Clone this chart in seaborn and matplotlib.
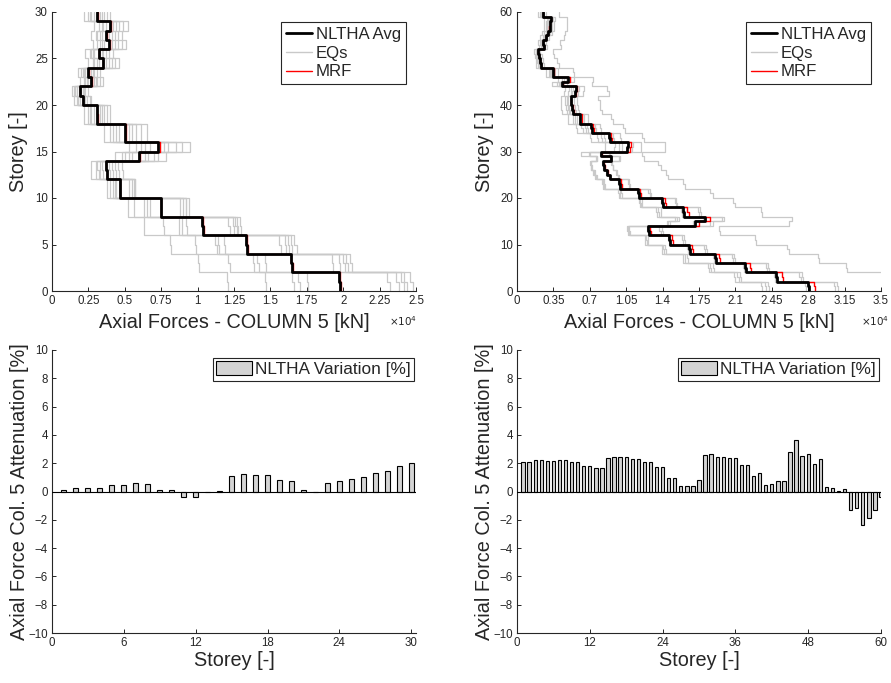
import numpy as np
import matplotlib
matplotlib.use("Agg")
import matplotlib.pyplot as plt
import seaborn as sns
from matplotlib.lines import Line2D
from matplotlib.patches import Patch

# ---------------- DATA (axial forces in 1e4 kN, storey 1..N from bottom) ----------------
storeys_30 = list(range(1, 31))
storeys_60 = list(range(1, 61))

avg_30 = [1.98, 1.97, 1.65, 1.64, 1.34, 1.33, 1.04, 1.03, 0.75, 0.75,
          0.47, 0.47, 0.38, 0.37, 0.60, 0.73, 0.50, 0.50, 0.31, 0.31,
          0.21, 0.19, 0.27, 0.25, 0.35, 0.32, 0.39, 0.37, 0.40, 0.31]

var_30 = [0.12, 0.26, 0.26, 0.26, 0.47, 0.45, 0.57, 0.55, 0.14, 0.12,
          -0.38, -0.38, -0.02, 0.07, 1.13, 1.25, 1.20, 1.18, 0.83, 0.73,
          0.14, -0.03, 0.57, 0.75, 0.90, 1.06, 1.32, 1.46, 1.81, 2.03]

eqs_30 = [
    [1.21, 1.20, 1.01, 1.00, 0.82, 0.81, 0.63, 0.63, 0.52, 0.52, 0.38, 0.38, 0.27, 0.27, 0.43, 0.53, 0.36, 0.36, 0.22, 0.22, 0.15, 0.14, 0.19, 0.18, 0.25, 0.23, 0.28, 0.27, 0.29, 0.22],
    [1.47, 1.46, 1.22, 1.21, 0.99, 0.98, 0.77, 0.76, 0.56, 0.56, 0.40, 0.40, 0.30, 0.30, 0.48, 0.58, 0.40, 0.40, 0.25, 0.25, 0.17, 0.15, 0.22, 0.20, 0.28, 0.26, 0.31, 0.30, 0.32, 0.25],
    [1.66, 1.65, 1.39, 1.38, 1.13, 1.12, 0.87, 0.87, 0.63, 0.63, 0.42, 0.42, 0.35, 0.34, 0.55, 0.67, 0.46, 0.46, 0.29, 0.29, 0.19, 0.17, 0.25, 0.23, 0.32, 0.29, 0.36, 0.34, 0.37, 0.29],
    [1.70, 1.69, 1.42, 1.41, 1.15, 1.14, 0.89, 0.89, 0.65, 0.65, 0.43, 0.43, 0.33, 0.33, 0.53, 0.64, 0.44, 0.44, 0.27, 0.27, 0.18, 0.17, 0.24, 0.22, 0.31, 0.28, 0.34, 0.33, 0.35, 0.27],
    [1.76, 1.75, 1.47, 1.46, 1.19, 1.18, 0.93, 0.92, 0.67, 0.67, 0.44, 0.44, 0.32, 0.31, 0.50, 0.61, 0.42, 0.42, 0.26, 0.26, 0.18, 0.16, 0.23, 0.21, 0.29, 0.27, 0.33, 0.31, 0.34, 0.26],
    [2.32, 2.30, 1.93, 1.92, 1.57, 1.56, 1.22, 1.21, 0.88, 0.88, 0.53, 0.53, 0.42, 0.41, 0.66, 0.80, 0.55, 0.55, 0.34, 0.34, 0.23, 0.21, 0.30, 0.28, 0.39, 0.35, 0.43, 0.41, 0.44, 0.34],
    [2.38, 2.36, 1.98, 1.97, 1.61, 1.60, 1.25, 1.24, 0.90, 0.90, 0.55, 0.55, 0.44, 0.43, 0.70, 0.85, 0.58, 0.58, 0.36, 0.36, 0.24, 0.22, 0.31, 0.29, 0.41, 0.37, 0.45, 0.43, 0.46, 0.36],
    [2.42, 2.40, 2.01, 2.00, 1.63, 1.62, 1.27, 1.26, 0.92, 0.92, 0.56, 0.56, 0.40, 0.39, 0.64, 0.77, 0.53, 0.53, 0.33, 0.33, 0.22, 0.20, 0.29, 0.27, 0.37, 0.34, 0.41, 0.39, 0.42, 0.33],
    [2.44, 2.42, 2.03, 2.02, 1.65, 1.64, 1.28, 1.27, 0.92, 0.92, 0.57, 0.57, 0.49, 0.48, 0.78, 0.95, 0.65, 0.65, 0.40, 0.40, 0.27, 0.25, 0.35, 0.33, 0.46, 0.42, 0.51, 0.48, 0.52, 0.40],
    [2.48, 2.46, 2.06, 2.05, 1.68, 1.66, 1.30, 1.29, 0.94, 0.94, 0.57, 0.57, 0.46, 0.45, 0.73, 0.89, 0.61, 0.61, 0.38, 0.38, 0.26, 0.23, 0.33, 0.31, 0.43, 0.39, 0.48, 0.45, 0.49, 0.38],
]

avg_60 = [2.81, 2.80, 2.50, 2.49, 2.20, 2.19, 1.91, 1.90, 1.66, 1.65,
          1.47, 1.46, 1.27, 1.26, 1.71, 1.81, 1.61, 1.60, 1.40, 1.39,
          1.17, 1.16, 0.99, 0.98, 0.89, 0.87, 0.84, 0.83, 0.90, 0.81,
          1.06, 1.07, 0.89, 0.88, 0.72, 0.71, 0.61, 0.61, 0.54, 0.53,
          0.52, 0.52, 0.56, 0.57, 0.43, 0.49, 0.35, 0.35, 0.23, 0.22,
          0.21, 0.20, 0.26, 0.25, 0.28, 0.30, 0.32, 0.32, 0.33, 0.25]

var_60 = [2.05, 2.05, 2.20, 2.20, 2.17, 2.17, 2.20, 2.20, 2.10, 2.10,
          1.80, 1.80, 1.63, 1.63, 2.40, 2.43, 2.43, 2.43, 2.28, 2.28,
          2.12, 2.12, 1.74, 1.74, 0.94, 0.97, 0.40, 0.42, 0.38, 0.82,
          2.61, 2.64, 2.43, 2.43, 2.36, 2.38, 1.84, 1.84, 1.08, 1.30,
          0.47, 0.54, 0.75, 0.75, 2.80, 3.63, 2.54, 2.64, 1.96, 2.28,
          0.30, 0.24, 0.02, 0.21, -1.30, -1.18, -2.38, -1.84, -1.30, -0.40]

eqs_60 = [
    [2.36, 2.35, 2.10, 2.09, 1.85, 1.84, 1.60, 1.60, 1.39, 1.39, 1.23, 1.23, 1.07, 1.06, 1.44, 1.52, 1.35, 1.34, 1.18, 1.17, 0.98, 0.97, 0.83, 0.82, 0.75, 0.73, 0.71, 0.70, 0.76, 0.62,
     0.85, 0.85, 0.71, 0.70, 0.58, 0.57, 0.49, 0.49, 0.43, 0.42, 0.42, 0.42, 0.45, 0.46, 0.34, 0.39, 0.28, 0.28, 0.18, 0.18, 0.17, 0.16, 0.21, 0.20, 0.22, 0.24, 0.26, 0.26, 0.26, 0.20],
    [2.39, 2.38, 2.13, 2.12, 1.87, 1.86, 1.62, 1.62, 1.41, 1.40, 1.25, 1.24, 1.08, 1.07, 1.45, 1.54, 1.37, 1.36, 1.19, 1.18, 0.99, 0.99, 0.84, 0.83, 0.76, 0.74, 0.71, 0.71, 0.77, 0.69,
     0.93, 0.94, 0.78, 0.77, 0.63, 0.62, 0.54, 0.54, 0.48, 0.47, 0.46, 0.46, 0.49, 0.50, 0.38, 0.43, 0.31, 0.31, 0.20, 0.19, 0.18, 0.18, 0.23, 0.22, 0.25, 0.26, 0.28, 0.28, 0.29, 0.22],
    [2.42, 2.41, 2.15, 2.14, 1.89, 1.88, 1.64, 1.63, 1.43, 1.42, 1.26, 1.26, 1.09, 1.08, 1.47, 1.56, 1.38, 1.38, 1.20, 1.20, 1.01, 1.00, 0.85, 0.84, 0.77, 0.75, 0.72, 0.71, 0.77, 0.70,
     0.98, 0.98, 0.82, 0.81, 0.66, 0.65, 0.56, 0.56, 0.50, 0.49, 0.48, 0.48, 0.52, 0.52, 0.40, 0.45, 0.32, 0.32, 0.21, 0.20, 0.19, 0.18, 0.24, 0.23, 0.26, 0.28, 0.29, 0.29, 0.30, 0.23],
    [2.78, 2.77, 2.48, 2.47, 2.18, 2.17, 1.89, 1.88, 1.64, 1.63, 1.46, 1.45, 1.26, 1.25, 1.69, 1.79, 1.59, 1.58, 1.39, 1.38, 1.16, 1.15, 0.98, 0.97, 0.88, 0.86, 0.83, 0.82, 0.89, 0.80,
     1.01, 1.01, 0.85, 0.84, 0.68, 0.67, 0.58, 0.58, 0.51, 0.50, 0.49, 0.49, 0.53, 0.54, 0.41, 0.47, 0.33, 0.33, 0.22, 0.21, 0.20, 0.19, 0.25, 0.24, 0.27, 0.29, 0.30, 0.30, 0.31, 0.24],
    [3.06, 3.05, 2.73, 2.71, 2.40, 2.39, 2.08, 2.07, 1.81, 1.80, 1.60, 1.59, 1.38, 1.37, 1.86, 1.97, 1.75, 1.74, 1.53, 1.52, 1.28, 1.26, 1.08, 1.07, 0.97, 0.95, 0.92, 0.90, 0.98, 0.88,
     1.11, 1.12, 0.93, 0.92, 0.76, 0.75, 0.64, 0.64, 0.57, 0.56, 0.55, 0.55, 0.59, 0.60, 0.45, 0.51, 0.37, 0.37, 0.24, 0.23, 0.22, 0.21, 0.27, 0.26, 0.29, 0.32, 0.34, 0.34, 0.35, 0.26],
    [3.09, 3.08, 2.75, 2.74, 2.42, 2.41, 2.10, 2.09, 1.83, 1.82, 1.62, 1.61, 1.40, 1.39, 1.88, 1.99, 1.77, 1.76, 1.54, 1.53, 1.29, 1.28, 1.09, 1.08, 0.98, 0.96, 0.92, 0.91, 0.99, 0.89,
     1.19, 1.19, 1.00, 0.99, 0.81, 0.80, 0.68, 0.68, 0.60, 0.59, 0.58, 0.58, 0.63, 0.64, 0.48, 0.55, 0.39, 0.39, 0.26, 0.25, 0.24, 0.22, 0.29, 0.28, 0.31, 0.34, 0.36, 0.36, 0.37, 0.28],
    [3.70, 3.69, 3.68, 3.66, 3.17, 3.16, 2.90, 2.89, 2.62, 2.60, 2.30, 2.29, 1.95, 1.94, 2.62, 2.64, 2.36, 2.35, 2.10, 2.08, 1.88, 1.86, 1.62, 1.60, 1.45, 1.43, 1.38, 1.36, 1.22, 1.20,
     1.42, 1.42, 1.22, 1.20, 1.04, 1.02, 0.92, 0.90, 0.82, 0.80, 0.80, 0.78, 0.88, 0.87, 0.72, 0.73, 0.55, 0.54, 0.40, 0.38, 0.36, 0.35, 0.42, 0.41, 0.45, 0.46, 0.48, 0.48, 0.48, 0.40],
]

xticks_30 = [0, 0.25, 0.5, 0.75, 1, 1.25, 1.5, 1.75, 2, 2.25, 2.5]
xticklabels_30 = ["0", "0.25", "0.5", "0.75", "1", "1.25", "1.5", "1.75", "2", "2.25", "2.5"]
xticks_60 = [0, 0.35, 0.7, 1.05, 1.4, 1.75, 2.1, 2.45, 2.8, 3.15, 3.5]
xticklabels_60 = ["0", "0.35", "0.7", "1.05", "1.4", "1.75", "2.1", "2.45", "2.8", "3.15", "3.5"]

# ---------------- STYLE ----------------
sns.set_style("ticks")
plt.rcParams["font.family"] = ["Liberation Sans", "DejaVu Sans"]

AX_COL = "#262626"
GREY = "#c9c9c9"
BAR_FACE = "#d4d4d4"
LABEL_FS = 14.3

fig = plt.figure(figsize=(8.91, 6.83), dpi=100)
W, H = 891.0, 683.0


def axes_px(l, t, r, b):
    return fig.add_axes([l / W, 1 - b / H, (r - l) / W, (b - t) / H])


ax_tl = axes_px(52, 12, 416, 291)
ax_tr = axes_px(517, 12, 881, 291)
ax_bl = axes_px(52, 350, 416, 633)
ax_br = axes_px(517, 350, 881, 633)


def step_xy(vals):
    v = np.asarray(vals, dtype=float)
    n = len(v)
    xs = np.repeat(v, 2)
    ys = np.empty(2 * n)
    ys[0::2] = np.arange(n)
    ys[1::2] = np.arange(1, n + 1)
    return xs, ys


def style_axes(ax):
    sns.despine(ax=ax)
    for s in ("left", "bottom"):
        ax.spines[s].set_color(AX_COL)
        ax.spines[s].set_linewidth(0.8)
    ax.tick_params(direction="in", length=3, width=0.7, color=AX_COL,
                   labelsize=8.3, labelcolor=AX_COL, pad=3)


def profile(ax, avg, var, eqs, nst, xmax, xticks, xlabels, yticks):
    for eq in eqs:
        xs, ys = step_xy(eq)
        sns.lineplot(x=xs, y=ys, sort=False, estimator=None, color=GREY,
                     linewidth=0.9, legend=False, ax=ax)
    mrf = np.asarray(avg) * (1 + np.asarray(var) / 100.0)
    xs, ys = step_xy(mrf)
    sns.lineplot(x=xs, y=ys, sort=False, estimator=None, color="#ff0000",
                 linewidth=1.0, legend=False, ax=ax)
    xs, ys = step_xy(avg)
    sns.lineplot(x=xs, y=ys, sort=False, estimator=None, color="black",
                 linewidth=2.0, legend=False, ax=ax)
    ax.set_xlim(0, xmax)
    ax.set_ylim(0, nst)
    ax.set_xticks(xticks)
    ax.set_xticklabels(xlabels)
    ax.set_yticks(yticks)
    style_axes(ax)
    ax.set_xlabel("Axial Forces - COLUMN 5 [kN]", fontsize=LABEL_FS, color=AX_COL)
    ax.set_ylabel("Storey [-]", fontsize=LABEL_FS, color=AX_COL)
    ax.xaxis.set_label_coords(0.5, -0.08)
    handles = [Line2D([], [], color="black", lw=2.0),
               Line2D([], [], color=GREY, lw=1.0),
               Line2D([], [], color="#ff0000", lw=1.0)]
    leg = ax.legend(handles, ["NLTHA Avg", "EQs", "MRF"], loc="upper right",
                    bbox_to_anchor=(1 - 10 / 364, 1 - 10 / 279), borderaxespad=0,
                    fontsize=12.1, frameon=True, fancybox=False, framealpha=1,
                    edgecolor="#262626", handlelength=1.6, handletextpad=0.2,
                    labelspacing=0.22, borderpad=0.3)
    leg.get_frame().set_linewidth(0.8)
    ax.text(0.925, -0.107, r"$\times10^{4}$", transform=ax.transAxes,
            fontsize=7.5, color=AX_COL, ha="left", va="center")


profile(ax_tl, avg_30, var_30, eqs_30, 30, 2.5, xticks_30, xticklabels_30,
        [0, 5, 10, 15, 20, 25, 30])
profile(ax_tr, avg_60, var_60, eqs_60, 60, 3.5, xticks_60, xticklabels_60,
        [0, 10, 20, 30, 40, 50, 60])
ax_tl.yaxis.set_label_coords(-0.066, 0.5)
ax_tr.yaxis.set_label_coords(-0.063, 0.5)
ax_tr.texts[-1].set_position((0.945, -0.107))


def bars(ax, st, var, width, xmax, xticks):
    sns.barplot(x=st, y=var, native_scale=True, orient="x", width=width,
                color=BAR_FACE, edgecolor="black", linewidth=0.8,
                errorbar=None, saturation=1, ax=ax)
    ax.axhline(0, color="black", linewidth=0.8, zorder=3)
    ax.set_xlim(0, xmax)
    ax.set_ylim(-10, 10)
    ax.set_xticks(xticks)
    ax.set_xticklabels([str(t) for t in xticks])
    ax.set_yticks(list(range(-10, 11, 2)))
    style_axes(ax)
    ax.set_xlabel("Storey [-]", fontsize=LABEL_FS, color=AX_COL)
    ax.set_ylabel("Axial Force Col. 5 Attenuation [%]", fontsize=LABEL_FS, color=AX_COL)
    ax.xaxis.set_label_coords(0.5, -0.062)
    ax.yaxis.set_label_coords(-0.062, 0.5)
    h = [Patch(facecolor=BAR_FACE, edgecolor="black", linewidth=0.8)]
    leg = ax.legend(h, ["NLTHA Variation [%]"], loc="upper right",
                    bbox_to_anchor=(1 - 2 / 364, 1 - 8 / 283), borderaxespad=0,
                    fontsize=12.4, frameon=True, fancybox=False, framealpha=1,
                    edgecolor="#262626", handlelength=2.1, handleheight=0.85,
                    handletextpad=0.15, borderpad=0.2)
    leg.get_frame().set_linewidth(0.8)


bars(ax_bl, storeys_30, var_30, 0.42, 30.4, [0, 6, 12, 18, 24, 30])
bars(ax_br, storeys_60, var_60, 0.55, 60, [0, 12, 24, 36, 48, 60])

fig.savefig("out.png", dpi=100)
